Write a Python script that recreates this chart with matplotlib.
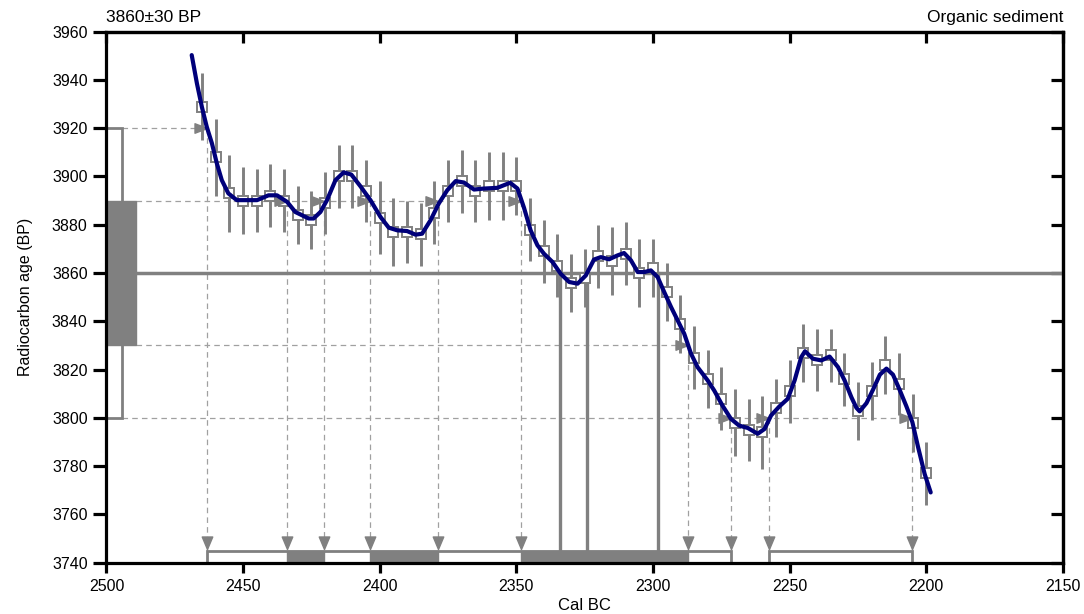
import matplotlib
matplotlib.use("Agg")
import matplotlib.pyplot as plt
from matplotlib.patches import Rectangle
from matplotlib.path import Path

plt.rcParams['font.family'] = ['Liberation Sans', 'DejaVu Sans']
plt.rcParams['lines.scale_dashes'] = False

# ---- sample ----------------------------------------------------------------
sample_label = "3860±30 BP"
material_label = "Organic sediment"
sample_age = 3860
one_sigma = [3830, 3890]
two_sigma = [3800, 3920]

# ---- calibration data points (cal BC, 14C BP, 1-sigma error) --------------
cal_years = [2465, 2460, 2455, 2450, 2445, 2440, 2435, 2430, 2425, 2420,
             2415, 2410, 2405, 2400, 2395, 2390, 2385, 2380, 2375, 2370,
             2365, 2360, 2355, 2350, 2345, 2340, 2335, 2330, 2325, 2320,
             2315, 2310, 2305, 2300, 2295, 2290, 2285, 2280, 2275, 2270,
             2265, 2260, 2255, 2250, 2245, 2240, 2235, 2230, 2225, 2220,
             2215, 2210, 2205, 2200]
cal_bp = [3929, 3908, 3893, 3890, 3890, 3892, 3890, 3884, 3882, 3889,
          3900, 3900, 3894, 3883, 3877, 3877, 3876, 3885, 3894, 3898,
          3894, 3896, 3896, 3896, 3878, 3869, 3863, 3856, 3858, 3867,
          3865, 3868, 3860, 3862, 3852, 3839, 3825, 3816, 3808, 3798,
          3795, 3794, 3804, 3811, 3827, 3824, 3826, 3816, 3803, 3811,
          3822, 3814, 3798, 3777]
cal_err = [14, 16, 16, 14, 13, 13, 13, 12, 12, 13,
           13, 13, 13, 15, 14, 13, 13, 13, 13, 13,
           13, 14, 14, 12, 13, 13, 13, 12, 12, 13,
           14, 13, 14, 12, 12, 12, 13, 12, 13, 14,
           13, 15, 12, 13, 12, 13, 11, 11, 12, 12,
           12, 13, 12, 13]

# ---- smoothed calibration curve -----------------------------------------
curve_years = [2468.8, 2466.9, 2465.1, 2463.3, 2461.4, 2459.6, 2457.8, 2455.4,
               2452.3, 2444.9, 2440.7, 2437.6, 2433.9, 2430.9, 2426.0, 2424.2,
               2421.7, 2419.3, 2416.2, 2413.2, 2410.4, 2407.1, 2403.4, 2399.7,
               2396.7, 2393.6, 2390.0, 2386.9, 2384.5, 2381.4, 2378.4, 2375.3,
               2372.2, 2369.2, 2365.5, 2361.9, 2357.0, 2352.3, 2349.6, 2347.2,
               2344.8, 2342.3, 2339.9, 2336.8, 2333.8, 2330.7, 2327.6, 2324.6,
               2321.6, 2319.1, 2316.1, 2313.0, 2310.6, 2308.1, 2305.6, 2303.2,
               2300.8, 2298.3, 2295.9, 2293.4, 2291.0, 2288.6, 2286.1, 2283.7,
               2280.0, 2277.6, 2274.6, 2271.5, 2268.5, 2265.3, 2261.7, 2259.2,
               2256.8, 2253.8, 2250.7, 2248.2, 2245.8, 2244.4, 2241.5, 2238.4,
               2235.4, 2232.3, 2229.9, 2227.4, 2225.6, 2224.4, 2221.9, 2219.5,
               2217.0, 2214.6, 2212.2, 2209.8, 2207.3, 2205.1, 2203.0, 2200.6,
               2198.4]
curve_bp = [3950.3, 3938.6, 3928.9, 3920.6, 3913.7, 3905.4, 3898.5, 3893.0,
            3890.2, 3890.2, 3892.2, 3892.2, 3889.5, 3885.3, 3882.6, 3882.6,
            3885.3, 3890.2, 3898.5, 3901.7, 3900.8, 3896.0, 3890.2, 3883.2,
            3878.8, 3877.7, 3877.4, 3875.9, 3876.3, 3881.9, 3888.8, 3894.3,
            3898.1, 3897.5, 3894.6, 3895.0, 3895.3, 3897.4, 3895.0, 3887.0,
            3877.7, 3871.5, 3868.0, 3864.6, 3859.7, 3856.3, 3855.6, 3859.0,
            3865.6, 3866.6, 3865.7, 3867.3, 3868.3, 3865.3, 3860.4, 3860.4,
            3861.1, 3858.3, 3852.1, 3845.9, 3840.4, 3834.9, 3826.6, 3821.0,
            3815.5, 3811.3, 3805.1, 3799.6, 3796.8, 3795.8, 3793.4, 3795.4,
            3801.0, 3804.7, 3807.9, 3815.5, 3825.1, 3827.6, 3824.5, 3823.8,
            3825.4, 3821.0, 3815.5, 3808.5, 3804.2, 3802.7, 3806.1, 3811.7,
            3817.9, 3820.4, 3817.9, 3811.7, 3804.8, 3798.2, 3787.8, 3776.7,
            3769.1]

# ---- intercepts of the sigma levels with the curve ----------------------
crossings = {
    3920: [2463.3],
    3890: [2434.0, 2420.4, 2403.5, 2378.5, 2348.4],
    3830: [2287.2],
    3800: [2271.3, 2257.6, 2205.1],
}
range_1s = [(2434.0, 2420.4), (2403.5, 2378.5), (2348.4, 2287.2)]
range_2s = [(2463.3, 2271.3), (2257.6, 2205.1)]
mean_intercepts = [2333.9, 2324.3, 2298.3]

x_ticks = [2500, 2450, 2400, 2350, 2300, 2250, 2200, 2150]
y_ticks = [3740, 3760, 3780, 3800, 3820, 3840, 3860, 3880, 3900, 3920, 3940, 3960]

GRAY = '#808080'
DASH = '#a0a0a0'
NAVY = '#00007a'

fig = plt.figure(figsize=(10.84, 6.14), dpi=100)
ax = fig.add_axes([0.0982, 0.0836, 0.8824, 0.8648])
ax.set_xlim(2500, 2150)
ax.set_ylim(3740, 3960)

# markers with the tip at the data point
right_tip = Path([(0, 0), (-1, 0.38), (-1, -0.38), (0, 0)],
                 [Path.MOVETO, Path.LINETO, Path.LINETO, Path.CLOSEPOLY])
down_tip = Path([(0, 0), (0.42, 1), (-0.42, 1), (0, 0)],
                [Path.MOVETO, Path.LINETO, Path.LINETO, Path.CLOSEPOLY])

bar_bottom = 3740
bar_top = 3744.9
box2_edge = 2494.4
box1_edge = 2489.3

# dashed guide lines from the sigma levels to the range bars
for level, xs in crossings.items():
    start = box2_edge if level in two_sigma else box1_edge
    ax.plot([start, min(xs)], [level, level], color=DASH, lw=0.9,
            ls=(0, (4, 3)), zorder=1)
    for x in xs:
        ax.plot([x, x], [level, bar_top], color=DASH, lw=0.9,
                ls=(0, (4, 3)), zorder=1)
    ax.plot(xs, [level] * len(xs), ls='none', marker=right_tip, ms=18,
            color=GRAY, mec=GRAY, zorder=4)
    ax.plot(xs, [bar_top + 0.6] * len(xs), ls='none', marker=down_tip, ms=18,
            color=GRAY, mec=GRAY, zorder=4)

# measured age line and its intercepts
ax.plot([2500, 2150], [sample_age, sample_age], color=GRAY, lw=2.5, zorder=2.5)
for x in mean_intercepts:
    ax.plot([x, x], [sample_age, bar_top], color=GRAY, lw=2.4, zorder=2.5)

# calibration data with errors
ax.errorbar(cal_years, cal_bp, yerr=cal_err, fmt='none', ecolor=GRAY,
            elinewidth=2.1, capsize=0, zorder=2)
ax.plot(cal_years, cal_bp, ls='none', marker='s', ms=7.6, mfc='white',
        mec=GRAY, mew=1.4, zorder=3)

# smoothed curve
ax.plot(curve_years, curve_bp, color=NAVY, lw=3.0, solid_joinstyle='round',
        solid_capstyle='round', zorder=6)

# calendar ranges along the bottom
for a, b in range_2s:
    ax.add_patch(Rectangle((b, bar_bottom), a - b, bar_top - bar_bottom,
                           facecolor='white', edgecolor=GRAY, lw=2.0, zorder=3.5))
for a, b in range_1s:
    ax.add_patch(Rectangle((b, bar_bottom), a - b, bar_top - bar_bottom,
                           facecolor=GRAY, edgecolor=GRAY, lw=1.0, zorder=3.6))

# measured age distribution boxes on the left
ax.add_patch(Rectangle((box2_edge, two_sigma[0]), 2500 - box2_edge,
                       two_sigma[1] - two_sigma[0], facecolor='white',
                       edgecolor=GRAY, lw=2.0, zorder=4))
ax.add_patch(Rectangle((box1_edge, one_sigma[0]), 2500 - box1_edge,
                       one_sigma[1] - one_sigma[0], facecolor=GRAY,
                       edgecolor=GRAY, lw=1.0, zorder=4.1))

# axes styling
for sp in ax.spines.values():
    sp.set_linewidth(2.3)
    sp.set_zorder(7)
ax.set_xticks(x_ticks)
ax.set_yticks(y_ticks)
ax.tick_params(axis='y', direction='out', length=9.5, width=2.3, labelsize=11.5,
               pad=4)
ax.tick_params(axis='x', direction='out', length=7.5, width=2.3, labelsize=11.5,
               pad=4)

secx = ax.secondary_xaxis('top')
secx.set_xticks(x_ticks)
secx.xaxis.set_ticklabels([])
secx.tick_params(direction='in', length=8, width=2.3)
secx.spines['top'].set_linewidth(2.3)

secy = ax.secondary_yaxis('right')
secy.set_yticks(y_ticks)
secy.yaxis.set_ticklabels([])
secy.tick_params(direction='in', length=9, width=2.3)
secy.spines['right'].set_linewidth(2.3)

ax.set_xlabel("Cal BC", fontsize=12)
ax.xaxis.set_label_coords(0.5, -0.066)
ax.set_ylabel("Radiocarbon age (BP)", fontsize=11.5)
ax.yaxis.label.set_verticalalignment('center')
ax.yaxis.set_label_coords(-0.085, 0.5)

ax.text(0.0, 1.027, sample_label, transform=ax.transAxes, ha='left',
        va='center', fontsize=12.5)
ax.text(1.0, 1.027, material_label, transform=ax.transAxes, ha='right',
        va='center', fontsize=12.5)

fig.savefig("out.png", dpi=100)
